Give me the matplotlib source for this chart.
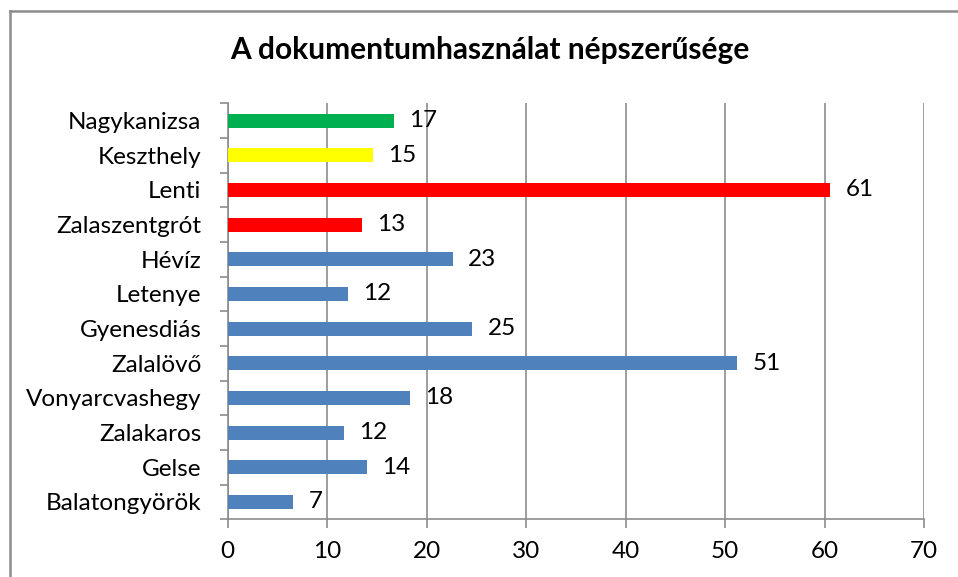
import matplotlib.pyplot as plt
import numpy as np
from matplotlib.lines import Line2D

# data, top to bottom as in the chart
cities = ["Nagykanizsa", "Keszthely", "Lenti", "Zalaszentgrót", "Hévíz", "Letenye",
          "Gyenesdiás", "Zalalövő", "Vonyarcvashegy", "Zalakaros", "Gelse", "Balatongyörök"]
values = [16.7, 14.6, 60.6, 13.5, 22.6, 12.1, 24.6, 51.2, 18.3, 11.7, 14.0, 6.6]
labels = ["17", "15", "61", "13", "23", "12", "25", "51", "18", "12", "14", "7"]
colors = ["#00b050", "#ffff00", "#ff0000", "#ff0000", "#4f81bd", "#4f81bd",
          "#4f81bd", "#4f81bd", "#4f81bd", "#4f81bd", "#4f81bd", "#4f81bd"]
x_ticks = [0, 10, 20, 30, 40, 50, 60, 70]

plt.rcParams['font.family'] = ['Lato', 'DejaVu Sans']

W, H = 958, 577
fig = plt.figure(figsize=(W / 100, H / 100), dpi=100)
ax = fig.add_axes([227.7 / W, 1 - 519.3 / H, (924 - 227.7) / W, (519.3 - 103.3) / H])

grid_col = "#8c8c8c"
fs = 17.5
y = np.arange(len(cities))[::-1]
bars = ax.barh(y, values, height=0.4, color=colors, zorder=3)
ax.bar_label(bars, labels=labels, padding=11, fontsize=fs)

ax.set_xlim(0, 70)
ax.set_ylim(-0.5, len(cities) - 0.5)
ax.set_xticks(x_ticks)
ax.set_yticks(y)
ax.set_yticklabels(cities)
ax.set_yticks(np.arange(-0.5, len(cities), 1), minor=True)
ax.tick_params(axis='y', which='major', length=0, pad=19, labelsize=fs)
ax.tick_params(axis='y', which='minor', length=6, width=1.2, color=grid_col, direction='out')
ax.tick_params(axis='x', length=6.5, width=1.2, color=grid_col, pad=9, labelsize=fs)

ax.grid(axis='x', color=grid_col, linewidth=1.2, zorder=0)
for s in ['top', 'right']:
    ax.spines[s].set_visible(False)
for s in ['left', 'bottom']:
    ax.spines[s].set_color(grid_col)
    ax.spines[s].set_linewidth(1.2)

fig.text(490 / W, 1 - 50 / H, "A dokumentumhasználat népszerűsége",
         ha='center', va='center', fontsize=21.5, fontweight='bold')

# outer chart border (cropped at right and bottom)
fig.add_artist(Line2D([9.5 / W, 9.5 / W], [0, 1 - 10.5 / H], color="#8c8c8c", linewidth=1.8,
                      transform=fig.transFigure))
fig.add_artist(Line2D([9.5 / W, 1], [1 - 10.5 / H, 1 - 10.5 / H], color="#8c8c8c", linewidth=1.8,
                      transform=fig.transFigure))

fig.savefig("out.png", dpi=100)
